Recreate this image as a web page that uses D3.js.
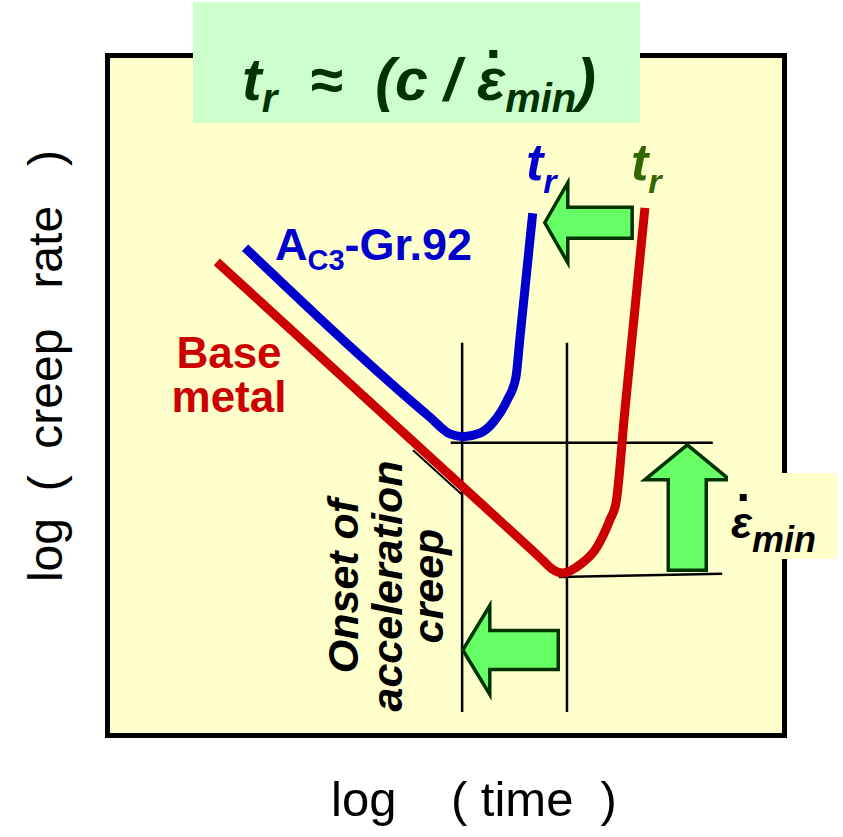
<!DOCTYPE html>
<html>
<head>
<meta charset="utf-8">
<script src="https://cdn.jsdelivr.net/npm/d3@7"></script>
<style>
  body { margin: 0; background: #fff; }
  svg { display: block; font-family: "Liberation Sans", Arial, sans-serif; }
  text { white-space: pre; }
</style>
</head>
<body>
<div id="chart"></div>
<script>
// curves in arbitrary log units (0-100 on both axes)
const baseMetal = [[15.9, 69.8], [47.6, 40.9], [64.4, 25.6], [65.8, 24.3], [67.3, 23.7], [69.9, 24.9],
  [72.5, 27.6], [74.4, 31.6], [75.3, 34.1], [76.6, 47.6], [79.6, 77.8]];
const gr92 = [[20.1, 71.9], [47.6, 46.8], [50.6, 44.3], [52.5, 43.9], [55.0, 44.4], [57.0, 46.0],
  [59.1, 49.3], [60.4, 52.7], [61.0, 58.5], [62.9, 77.0]];
const edgeLine = [[45.1, 41.9], [52.4, 35.3]];

// onset of acceleration creep (time) and minimum creep rates
const onsetTimes = [52.4, 68.0];
const onsetSpan = [3.1, 57.8];
const minRateLines = [
  [[50.7, 43.0], [89.7, 43.0]],
  [[66.8, 23.1], [91.1, 23.6]]
];

// shift arrows: tip and tail
const arrowTips = [[64.7, 75.6], [52.5, 12.3], [85.9, 42.7]];
const arrowTails = [[77.7, 75.6], [66.7, 12.3], [85.9, 24.1]];
const arrowHeads = [[23, 40, 15.5], [27, 44.5, 19.5], [35, 42.5, 19]]; // head length, head half width, shaft half width

const width = 843, height = 837;
const margin = { top: 58, right: 61, bottom: 104, left: 110 };

const svg = d3.select("#chart").append("svg")
  .attr("width", width)
  .attr("height", height);

const x = d3.scaleLinear().domain([0, 100]).range([margin.left, width - margin.right]);
const y = d3.scaleLinear().domain([0, 100]).range([height - margin.bottom, margin.top]);

// frame
svg.append("rect")
  .attr("x", x(0) - 2.5)
  .attr("y", y(100) - 2.5)
  .attr("width", x(100) - x(0) + 5)
  .attr("height", y(0) - y(100) + 5)
  .attr("fill", "#FFFFCC")
  .attr("stroke", "#000")
  .attr("stroke-width", 5);

const line = d3.line()
  .x(d => x(d[0]))
  .y(d => y(d[1]))
  .curve(d3.curveMonotoneX);

// guide lines
svg.selectAll(".onset")
  .data(onsetTimes)
  .enter().append("line")
    .attr("x1", d => x(d)).attr("x2", d => x(d))
    .attr("y1", y(onsetSpan[0])).attr("y2", y(onsetSpan[1]))
    .attr("stroke", "#000")
    .attr("stroke-width", 2.5);

svg.selectAll(".minrate")
  .data(minRateLines)
  .enter().append("line")
    .attr("x1", d => x(d[0][0])).attr("y1", d => y(d[0][1]))
    .attr("x2", d => x(d[1][0])).attr("y2", d => y(d[1][1]))
    .attr("stroke", "#000")
    .attr("stroke-width", 2.5);

svg.append("path")
  .datum(edgeLine)
  .attr("d", d3.line().x(d => x(d[0])).y(d => y(d[1])))
  .attr("stroke", "#000")
  .attr("stroke-width", 2);

// creep curves
svg.append("path")
  .datum(baseMetal)
  .attr("d", line)
  .attr("fill", "none")
  .attr("stroke", "#CC0000")
  .attr("stroke-width", 9);

svg.append("path")
  .datum(gr92)
  .attr("d", line)
  .attr("fill", "none")
  .attr("stroke", "#0000CC")
  .attr("stroke-width", 9);

// arrows
function arrowPath(tip, tail, head) {
  let tx = x(tip[0]), ty = y(tip[1]);
  let sx = x(tail[0]), sy = y(tail[1]);
  let len = Math.hypot(sx - tx, sy - ty);
  let ux = (sx - tx) / len, uy = (sy - ty) / len;
  let px = -uy, py = ux;
  let [hl, hw, sw] = head;
  let pts = [
    [tx, ty],
    [tx + ux * hl + px * hw, ty + uy * hl + py * hw],
    [tx + ux * hl + px * sw, ty + uy * hl + py * sw],
    [sx + px * sw, sy + py * sw],
    [sx - px * sw, sy - py * sw],
    [tx + ux * hl - px * sw, ty + uy * hl - py * sw],
    [tx + ux * hl - px * hw, ty + uy * hl - py * hw]
  ];
  return "M" + pts.map(p => p.join(",")).join("L") + "Z";
}

svg.selectAll(".arrow")
  .data(arrowTips)
  .enter().append("path")
    .attr("d", (d, i) => arrowPath(d, arrowTails[i], arrowHeads[i]))
    .attr("fill", "#66FF66")
    .attr("stroke", "#003300")
    .attr("stroke-width", 3.5)
    .attr("stroke-linejoin", "miter");

// dot over epsilon, placed from the glyph extent
function epsilonDot(text, fontSize, lift, size, color) {
  let node = text.node();
  let idx = node.textContent.indexOf("\u03B5");
  let box = node.getExtentOfChar(idx);
  let base = node.getStartPositionOfChar(idx).y;
  svg.append("rect")
    .attr("x", box.x + box.width * 0.58 - size / 2)
    .attr("y", base - lift * fontSize - size / 2)
    .attr("width", size)
    .attr("height", size)
    .attr("fill", color);
}

// labels
let gLabel = svg.append("text")
  .attr("x", 275).attr("y", 260)
  .attr("fill", "#0000CC")
  .attr("font-weight", "bold")
  .attr("font-size", 45);
gLabel.append("tspan").text("A");
gLabel.append("tspan").attr("font-size", 29).attr("dy", 10).text("C3");
gLabel.append("tspan").attr("dy", -10).text("-Gr.92");

let bLabel = svg.append("text")
  .attr("fill", "#CC0000")
  .attr("font-weight", "bold")
  .attr("font-size", 44)
  .attr("text-anchor", "middle");
bLabel.append("tspan").attr("x", 229).attr("y", 368).text("Base");
bLabel.append("tspan").attr("x", 229).attr("y", 412).text("metal");

[["#0000CC", 526], ["#336600", 631]].forEach(function(c) {
  let t = svg.append("text")
    .attr("x", c[1]).attr("y", 180)
    .attr("fill", c[0])
    .attr("font-weight", "bold")
    .attr("font-style", "italic")
    .attr("font-size", 52);
  t.append("tspan").text("t");
  t.append("tspan").attr("font-size", 34).attr("dy", 13).text("r");
});

let onset = svg.append("text")
  .attr("transform", "translate(0,586) rotate(-90)")
  .attr("text-anchor", "middle")
  .attr("font-weight", "bold")
  .attr("font-style", "italic")
  .attr("font-size", 43)
  .attr("fill", "#000");
["Onset of", "acceleration", "creep"].forEach(function(s, i) {
  onset.append("tspan").attr("x", 0).attr("y", [358, 402, 443][i]).text(s);
});

// minimum creep rate label box
svg.append("rect")
  .attr("x", 728).attr("y", 473)
  .attr("width", 110).attr("height", 86)
  .attr("fill", "#FFFFCC");
let eLabel = svg.append("text")
  .attr("x", 731).attr("y", 538)
  .attr("font-weight", "bold")
  .attr("font-style", "italic")
  .attr("font-size", 44)
  .attr("fill", "#000");
eLabel.append("tspan").text("\u03B5");
eLabel.append("tspan").attr("font-size", 36).attr("dy", 14).text("min");
epsilonDot(eLabel, 44, 0.92, 7, "#000");

// formula box
svg.append("rect")
  .attr("x", 193).attr("y", 2)
  .attr("width", 447).attr("height", 121)
  .attr("fill", "#CCFFCC");
let formula = svg.append("text")
  .attr("x", 419).attr("y", 100)
  .attr("text-anchor", "middle")
  .attr("font-weight", "bold")
  .attr("font-style", "italic")
  .attr("font-size", 59)
  .attr("fill", "#003300");
formula.append("tspan").text("t");
formula.append("tspan").attr("font-size", 40).attr("dy", 12).text("r");
formula.append("tspan").attr("dy", -12).text("  \u2248  (c / \u03B5");
formula.append("tspan").attr("font-size", 40).attr("dy", 12).text("min");
formula.append("tspan").attr("dy", -12).text(")");
epsilonDot(formula, 59, 0.78, 8, "#003300");

// axis titles
svg.append("text")
  .attr("transform", "translate(62,366) rotate(-90)")
  .attr("text-anchor", "middle")
  .attr("font-size", 48)
  .attr("fill", "#000")
  .text("log  (  creep   rate   )");

svg.append("text")
  .attr("x", 474).attr("y", 816)
  .attr("text-anchor", "middle")
  .attr("font-size", 49)
  .attr("fill", "#000")
  .text("log    ( time  )");
</script>
</body>
</html>
